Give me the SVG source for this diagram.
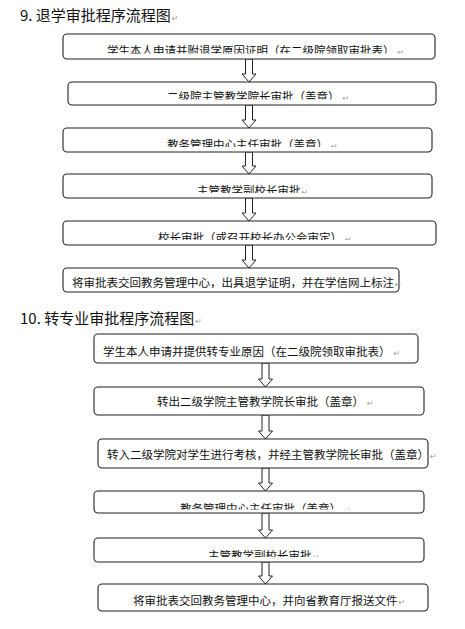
<svg xmlns="http://www.w3.org/2000/svg" width="465" height="629" viewBox="0 0 465 629">
<style>
.box{fill:#fff;stroke:#222;stroke-width:1.1}
.t{font-family:"Noto Sans CJK SC","Noto Sans",sans-serif;font-size:11.5px;fill:#111}
.h{font-family:"Noto Sans CJK SC","Noto Sans",sans-serif;font-size:15px;fill:#111}
.r{font-family:"DejaVu Sans",sans-serif;font-size:8px;fill:#999}
.ar{fill:#fff;stroke:#222;stroke-width:1}
</style>
<defs>
<clipPath id="c1"><rect x="60" y="30" width="380" height="23.5"/></clipPath>
<clipPath id="c2"><rect x="60" y="80" width="380" height="19.5"/></clipPath>
<clipPath id="c3"><rect x="60" y="126" width="380" height="21"/></clipPath>
<clipPath id="c4"><rect x="60" y="172" width="380" height="21"/></clipPath>
<clipPath id="c5"><rect x="60" y="219" width="380" height="21"/></clipPath>
<clipPath id="c10"><rect x="90" y="489" width="340" height="20.5"/></clipPath>
<clipPath id="c11"><rect x="90" y="536" width="340" height="21"/></clipPath>
</defs>
<rect width="465" height="629" fill="#fff"/>
<text class="h" x="20" y="21">9. 退学审批程序流程图<tspan class="r" dx="1">↵</tspan></text>
<text class="h" x="20" y="324">10. 转专业审批程序流程图<tspan class="r" dx="1">↵</tspan></text>

<g id="connectors">
<polygon class="ar" points="245.5,59 252.5,59 252.5,74 256,74 249,82 242,74 245.5,74"/>
<polygon class="ar" points="245.5,105 252.5,105 252.5,120 256,120 249,128 242,120 245.5,120"/>
<polygon class="ar" points="245.5,152 252.5,152 252.5,166 256,166 249,174 242,166 245.5,166"/>
<polygon class="ar" points="245.5,198 252.5,198 252.5,213 256,213 249,221 242,213 245.5,213"/>
<polygon class="ar" points="245.5,245 252.5,245 252.5,260 256,260 249,268 242,260 245.5,260"/>
<polygon class="ar" points="262,363 269,363 269,379 272.5,379 265.5,387 258.5,379 262,379"/>
<polygon class="ar" points="262,415 269,415 269,431 272.5,431 265.5,439 258.5,431 262,431"/>
<polygon class="ar" points="262,468 269,468 269,483 272.5,483 265.5,491 258.5,483 262,483"/>
<polygon class="ar" points="262,513 269,513 269,530 272.5,530 265.5,538 258.5,530 262,530"/>
<polygon class="ar" points="262,562 269,562 269,576 272.5,576 265.5,584 258.5,576 262,576"/>
</g>

<g id="n1"><rect class="box" x="63" y="34" width="372" height="25" rx="4"/>
<text class="t" x="107" y="55" clip-path="url(#c1)">学生本人申请并附退学原因证明（在二级院领取审批表）<tspan class="r" dx="3">↵</tspan></text></g>
<g id="n2"><rect class="box" x="68" y="82" width="368" height="23" rx="4"/>
<text class="t" x="167" y="100.5" clip-path="url(#c2)">二级院主管教学院长审批（盖章）<tspan class="r" dx="3">↵</tspan></text></g>
<g id="n3"><rect class="box" x="63" y="128" width="369" height="24" rx="4"/>
<text class="t" x="167" y="148.5" clip-path="url(#c3)">教务管理中心主任审批（盖章）<tspan class="r" dx="3">↵</tspan></text></g>
<g id="n4"><rect class="box" x="63" y="174" width="369" height="24" rx="4"/>
<text class="t" x="197" y="194.5" clip-path="url(#c4)">主管教学副校长审批<tspan class="r" dx="1">↵</tspan></text></g>
<g id="n5"><rect class="box" x="63" y="221" width="373" height="24" rx="4"/>
<text class="t" x="158" y="241.5" clip-path="url(#c5)">校长审批（或召开校长办公会审定）<tspan class="r" dx="3">↵</tspan></text></g>
<g id="n6"><rect class="box" x="63" y="268" width="336" height="24" rx="4"/>
<text class="t" x="72" y="287">将审批表交回教务管理中心，出具退学证明，并在学信网上标注<tspan class="r" dx="1">↵</tspan></text></g>

<g id="n7"><rect class="box" x="94" y="334" width="324" height="29" rx="4"/>
<text class="t" x="103" y="356">学生本人申请并提供转专业原因（在二级院领取审批表）<tspan class="r" dx="3">↵</tspan></text></g>
<g id="n8"><rect class="box" x="94" y="387" width="330" height="28" rx="4"/>
<text class="t" x="157" y="406">转出二级学院主管教学院长审批（盖章）<tspan class="r" dx="3">↵</tspan></text></g>
<g id="n9"><rect class="box" x="98" y="439" width="330" height="29" rx="4"/>
<text class="t" x="107" y="459">转入二级学院对学生进行考核，并经主管教学院长审批（盖章）<tspan class="r" dx="1">↵</tspan></text></g>
<g id="n10"><rect class="box" x="94" y="491" width="330" height="22" rx="4"/>
<text class="t" x="180" y="512.5" clip-path="url(#c10)">教务管理中心主任审批（盖章）<tspan class="r" dx="3">↵</tspan></text></g>
<g id="n11"><rect class="box" x="94" y="538" width="330" height="24" rx="4"/>
<text class="t" x="208" y="559.5" clip-path="url(#c11)">主管教学副校长审批<tspan class="r" dx="1">↵</tspan></text></g>
<g id="n12"><rect class="box" x="98" y="584" width="330" height="27" rx="4"/>
<text class="t" x="133" y="605">将审批表交回教务管理中心，并向省教育厅报送文件<tspan class="r" dx="1">↵</tspan></text></g>
</svg>
